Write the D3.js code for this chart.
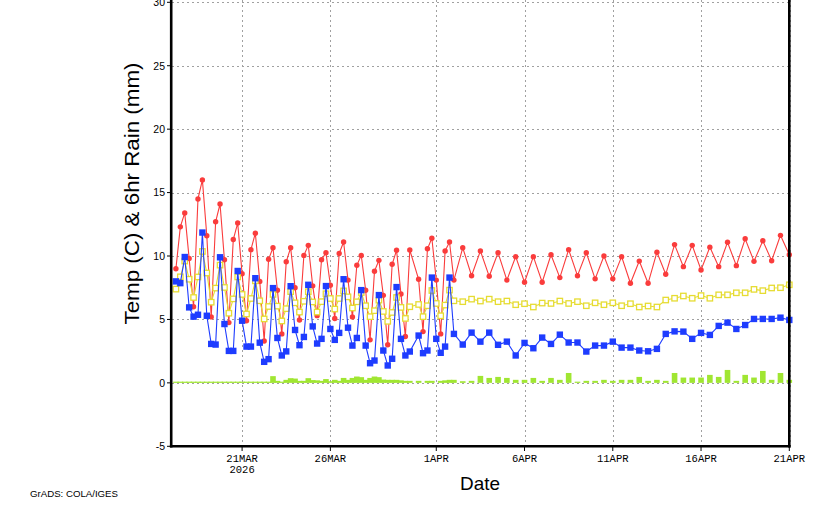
<!DOCTYPE html>
<html>
<head>
<meta charset="utf-8">
<script src="https://cdn.jsdelivr.net/npm/d3@7"></script>
<style>
  html, body { margin: 0; padding: 0; background: #ffffff; }
  svg { display: block; }
</style>
</head>
<body>
<script>
const WIDTH = 835;
const HEIGHT = 509;

// 6-hourly part: 17MAR 06Z .. 2APR 00Z (one step missing)
const hiTemp6 = [9.0,12.3,13.4,9.8,6.0,14.5,16.0,11.6,5.2,12.7,
    14.1,9.7,4.75,11.3,12.6,8.6,4.9,10.5,11.8,8.0,
    3.3,9.74,10.65,7.3,3.86,9.55,10.65,7.5,4.96,10.05,
    10.84,7.65,5.3,9.7,10.26,7.7,5.08,10.2,11.1,8.1,
    5.2,9.27,10.05,7.3,3.39,8.8,9.66,6.9,3.0,9.35,
    10.45,7.0,3.65,10.47,null,8.17,4.04,10.57,11.4,8.1,
    3.86,10.4,11.1,8.1];
const loTemp6 = [8.0,7.86,9.92,5.95,5.22,5.37,11.85,5.29,3.07,3.02,
    9.9,4.64,2.52,2.52,8.82,4.9,2.86,2.86,8.25,3.17,
    1.66,1.87,7.47,3.54,2.16,2.48,7.62,4.17,2.97,3.62,
    7.73,4.45,3.1,3.47,7.63,4.25,3.39,3.94,8.17,4.35,
    2.94,3.54,7.31,2.94,1.55,1.76,6.92,2.55,1.37,1.9,
    7.55,3.47,2.16,2.47,null,3.73,2.34,2.55,8.3,3.47,
    2.37,2.86,8.3,3.86];
const midTemp6 = [7.39,8.36,9.6,8.17,6.73,8.35,10.36,8.66,6.36,7.47,
    9.28,7.52,5.49,6.62,8.35,6.97,5.43,6.65,8.04,6.47,
    5.04,6.02,6.97,6.05,4.88,5.85,7.19,6.31,5.58,6.43,
    7.19,6.38,5.58,6.4,7.03,6.65,5.82,6.65,7.25,6.78,
    5.9,6.39,7.12,6.08,5.22,5.69,6.52,5.63,4.85,5.55,
    6.73,5.95,5.08,6.0,null,6.18,5.22,6.08,7.28,6.26,
    5.29,6.13,7.31,6.47];
const rain6 = [0.02,0.02,0.02,0.02,0.02,0.02,0.02,0.02,0.02,0.02,
    0.02,0.02,0.02,0.02,0.02,0.02,0.02,0.02,0.02,0.02,
    0.02,0.05,0.53,0.16,0.05,0.24,0.37,0.34,0.16,0.16,
    0.37,0.22,0.2,0.16,0.3,0.13,0.24,0.16,0.39,0.24,
    0.39,0.5,0.45,0.24,0.39,0.5,0.45,0.26,0.24,0.24,
    0.24,0.2,0.16,0.16,null,0.16,0,0.16,0.16,0,
    0.16,0.2,0.24,0.24];

// 12-hourly part: 2APR 12Z .. 21APR 00Z
const hiTemp12 = [10.65,8.45,10.4,8.4,10.26,8.1,9.95,7.93,9.95,7.93,
    10.1,8.3,10.5,8.45,10.26,8.2,10.0,8.2,9.95,7.85,
    9.6,7.85,10.3,8.56,10.9,9.16,10.84,8.9,10.7,9.16,
    11.08,9.24,11.36,9.58,11.2,9.63,11.63,10.1];
const loTemp12 = [3.02,3.96,3.25,3.96,3.0,3.25,2.16,3.15,2.73,3.57,
    3.07,3.8,3.18,3.18,2.47,2.94,2.94,3.25,2.78,2.78,
    2.55,2.49,2.68,3.86,4.06,4.04,3.47,3.94,3.78,4.49,
    4.75,4.25,4.56,5.04,5.04,5.04,5.14,4.96];
const midTemp12 = [6.4,6.6,6.45,6.6,6.4,6.45,6.16,6.24,5.98,6.29,
    6.26,6.45,6.26,6.4,6.08,6.31,6.16,6.31,6.08,6.24,
    5.98,6.06,5.98,6.53,6.67,6.85,6.67,6.88,6.67,6.94,
    6.94,7.1,7.1,7.37,7.27,7.48,7.5,7.73];
const rain12 = [0.13,0.16,0.55,0.39,0.47,0.39,0.24,0.24,0.39,0.16,
    0.39,0.24,0.78,0.08,0.16,0.16,0.24,0.16,0.24,0.24,
    0.47,0.16,0.24,0.16,0.78,0.42,0.42,0.42,0.63,0.47,
    1.02,0.16,0.63,0.42,0.94,0.24,0.78,0.24];

const yTicks = [-5,0,5,10,15,20,25,30];
const xTickDates = [Date.UTC(2026,2,21),Date.UTC(2026,2,26),Date.UTC(2026,3,1),
    Date.UTC(2026,3,6),Date.UTC(2026,3,11),Date.UTC(2026,3,16),Date.UTC(2026,3,21)];
const xTickLabels = ["21MAR","26MAR","1APR","6APR","11APR","16APR","21APR"];

function setup(){
    let svg = d3.select("body")
        .append("svg")
        .attr("width",WIDTH)
        .attr("height",HEIGHT);

    let times6 = d3.utcHour.every(6).range(new Date(Date.UTC(2026,2,17,6)),new Date(Date.UTC(2026,3,2,6)));
    let times12 = d3.utcHour.every(12).range(new Date(Date.UTC(2026,3,2,12)),new Date(Date.UTC(2026,3,21,1)));
    let times = times6.concat(times12);
    let hi = hiTemp6.concat(hiTemp12);
    let lo = loTemp6.concat(loTemp12);
    let mid = midTemp6.concat(midTemp12);
    let rain = rain6.concat(rain12);
    let rows = times.map((t,i)=>({t:t,hi:hi[i],lo:lo[i],mid:mid[i],rain:rain[i]}));

    let x = d3.scaleUtc()
        .domain([new Date(Date.UTC(2026,2,17)),new Date(Date.UTC(2026,3,21))])
        .range([171.5,789.3]);
    let y = d3.scaleLinear()
        .domain([-5,30])
        .range([446.3,2.3]);

    // grid
    let grid = svg.append("g")
        .attr("stroke","#a0a0a0")
        .attr("stroke-width",1)
        .attr("stroke-dasharray","2,3");
    grid.selectAll(".hgrid")
        .data(yTicks.filter(v=>v>-5))
        .enter()
        .append("line")
        .attr("x1",172).attr("x2",789)
        .attr("y1",d=>Math.round(y(d))+0.5)
        .attr("y2",d=>Math.round(y(d))+0.5);
    grid.selectAll(".vgrid")
        .data(xTickDates)
        .enter()
        .append("line")
        .attr("x1",d=>Math.round(x(d))+(d==xTickDates[6]?1.5:0.5))
        .attr("x2",d=>Math.round(x(d))+(d==xTickDates[6]?1.5:0.5))
        .attr("y1",0).attr("y2",446);

    // rain bars
    let halfBar = 2.8;
    svg.append("g")
        .selectAll("rect")
        .data(rows.filter(d=>d.rain!=null && d.rain>0))
        .enter()
        .append("rect")
        .attr("x",d=>x(d.t)-halfBar)
        .attr("width",halfBar*2)
        .attr("y",d=>Math.min(y(d.rain),y(0)-1.2))
        .attr("height",d=>Math.max(y(0)-y(d.rain),1.2))
        .attr("fill","rgb(160,230,50)");

    function series(key,color){
        let pts = rows.filter(d=>d[key]!=null);
        let line = d3.line().x(d=>x(d.t)).y(d=>y(d[key]));
        svg.append("path")
            .datum(pts)
            .attr("d",line)
            .attr("fill","none")
            .attr("stroke",color)
            .attr("stroke-width",1.1);
        return pts;
    }

    let redPts = series("hi","rgb(250,60,60)");
    svg.append("g").selectAll("circle")
        .data(redPts)
        .enter()
        .append("circle")
        .attr("cx",d=>x(d.t))
        .attr("cy",d=>y(d.hi))
        .attr("r",2.7)
        .attr("fill","rgb(250,60,60)");

    let yelPts = series("mid","rgb(230,220,50)");
    svg.append("g").selectAll("rect")
        .data(yelPts)
        .enter()
        .append("rect")
        .attr("x",d=>x(d.t)-2.7)
        .attr("y",d=>y(d.mid)-2.7)
        .attr("width",5.4)
        .attr("height",5.4)
        .attr("fill","white")
        .attr("stroke","rgb(230,220,50)")
        .attr("stroke-width",1.3);

    let bluePts = series("lo","rgb(30,60,255)");
    svg.append("g").selectAll("rect")
        .data(bluePts)
        .enter()
        .append("rect")
        .attr("x",d=>x(d.t)-3.2)
        .attr("y",d=>y(d.lo)-3.2)
        .attr("width",6.4)
        .attr("height",6.4)
        .attr("fill","rgb(30,60,255)");

    // frame
    let frame = svg.append("g").attr("stroke","black").attr("stroke-width",2.6);
    frame.append("line").attr("x1",171.2).attr("x2",171.2).attr("y1",0).attr("y2",447.6);
    frame.append("line").attr("x1",789.3).attr("x2",789.3).attr("y1",0).attr("y2",447.6);
    frame.append("line").attr("x1",169.9).attr("x2",790.6).attr("y1",446.3).attr("y2",446.3);

    // y ticks and labels
    svg.append("g").selectAll("line")
        .data(yTicks)
        .enter()
        .append("line")
        .attr("x1",167).attr("x2",171)
        .attr("y1",d=>y(d)).attr("y2",d=>y(d))
        .attr("stroke","black");
    svg.append("g").selectAll("text")
        .data(yTicks)
        .enter()
        .append("text")
        .attr("x",165)
        .attr("y",d=>y(d)+3.8)
        .attr("text-anchor","end")
        .style("font-family","'Liberation Sans', Arial, sans-serif")
        .style("font-size","10.5px")
        .text(d=>d);

    // x ticks and labels
    svg.append("g").selectAll("line")
        .data(xTickDates)
        .enter()
        .append("line")
        .attr("x1",d=>x(d)).attr("x2",d=>x(d))
        .attr("y1",446).attr("y2",451)
        .attr("stroke","black");
    svg.append("g").selectAll("text")
        .data(xTickDates)
        .enter()
        .append("text")
        .attr("x",d=>x(d))
        .attr("y",462)
        .attr("text-anchor","middle")
        .style("font-family","'Liberation Mono', monospace")
        .style("font-size","10.5px")
        .text((d,i)=>xTickLabels[i]);
    svg.append("text")
        .attr("x",x(xTickDates[0]))
        .attr("y",473)
        .attr("text-anchor","middle")
        .style("font-family","'Liberation Mono', monospace")
        .style("font-size","10.5px")
        .text("2026");

    // titles
    svg.append("text")
        .attr("transform","translate(139,193.5) rotate(-90)")
        .attr("text-anchor","middle")
        .attr("textLength",262)
        .attr("lengthAdjust","spacingAndGlyphs")
        .style("font-family","'Liberation Sans', Arial, sans-serif")
        .style("font-size","20px")
        .text("Temp (C) & 6hr Rain (mm)");
    svg.append("text")
        .attr("x",480)
        .attr("y",490)
        .attr("text-anchor","middle")
        .attr("textLength",40)
        .attr("lengthAdjust","spacingAndGlyphs")
        .style("font-family","'Liberation Sans', Arial, sans-serif")
        .style("font-size","19px")
        .text("Date");
    svg.append("text")
        .attr("x",30)
        .attr("y",497)
        .attr("textLength",88)
        .attr("lengthAdjust","spacingAndGlyphs")
        .style("font-family","'Liberation Sans', Arial, sans-serif")
        .style("font-size","9px")
        .text("GrADS: COLA/IGES");
}

window.addEventListener("load",setup);
</script>
</body>
</html>
